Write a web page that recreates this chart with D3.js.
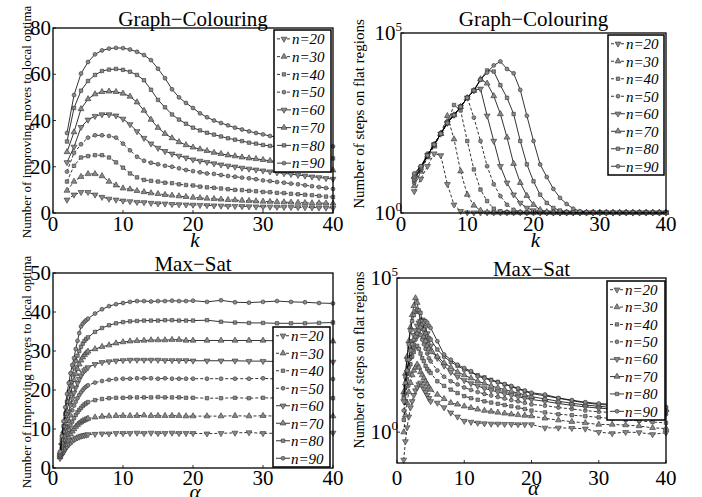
<!DOCTYPE html>
<html>
<head>
<meta charset="utf-8">
<script src="https://cdn.jsdelivr.net/npm/d3@7"></script>
<style>
body { margin: 0; background: #fff; }
svg { display: block; }
</style>
</head>
<body>
<script>
var seriesNames = ["n=20", "n=30", "n=40", "n=50", "n=60", "n=70", "n=80", "n=90"];

// k values for Graph-Colouring
var kVals = [2,3,4,5,6,7,8,9,10,11,12,13,14,15,16,17,18,19,20,21,22,23,24,25,26,27,28,29,30,31,32,33,34,35,36,37,38,39,40];

// alpha values for Max-Sat
var alphaVals = [1,1.25,1.5,1.75,2,2.25,2.5,2.75,3,3.25,3.5,3.75,4,4.25,4.5,4.75,5,
  6,7,8,9,10,11,12,13,14,15,16,17,18,19,20,
  22,24,26,28,30,32,34,36,38,40];

// Graph-Colouring: improving moves to local optima
var gcMoves = [
  [5.7,7.9,9.0,9.0,7.9,6.9,6.1,5.7,5.3,5.0,4.7,4.6,4.3,4.1,4.0,3.8,3.7,3.6,3.5,3.4,3.3,3.2,3.1,3.0,2.95,2.9,2.8,2.75,2.7,2.65,2.6,2.55,2.5,2.45,2.4,2.35,2.3,2.25,2.2],
  [9.7,13.6,15.7,16.9,16.9,16.0,13.6,12.0,10.7,10.3,9.6,9.1,8.6,8.3,7.9,7.6,7.3,7.0,6.7,6.5,6.3,6.1,5.9,5.7,5.6,5.4,5.3,5.1,5.0,4.9,4.8,4.7,4.6,4.5,4.4,4.3,4.3,4.2,4.2],
  [13.6,20.4,24.0,24.6,25.0,25.0,24.0,21.9,19.6,17.1,15.4,14.3,13.9,13.6,13.1,12.9,12.4,12.1,11.9,11.4,11.1,10.9,10.6,10.3,10.0,9.9,9.6,9.4,9.1,9.0,8.7,8.6,8.3,8.1,7.9,7.7,7.4,7.1,6.9],
  [17.9,26.0,29.7,32.6,33.6,33.6,33.3,32.6,30.0,27.1,24.3,22.6,21.7,21.1,20.4,20.0,19.3,18.6,18.1,17.6,17.1,16.9,16.4,16.0,15.7,15.3,15.0,14.6,14.1,13.8,13.4,13.1,12.7,12.4,12.0,11.6,11.2,10.8,10.4],
  [21.9,28.6,37.1,40.3,41.9,42.6,42.6,42.1,40.7,38.3,35.3,32.4,30.0,28.1,26.7,25.6,24.7,23.9,23.1,22.5,22.0,21.4,20.9,20.4,20.0,19.5,19.1,18.7,18.3,17.9,17.5,17.1,16.8,16.4,16.1,15.7,15.4,15.0,14.7],
  [26.4,35.0,45.0,49.3,51.4,52.4,52.6,52.4,51.7,50.4,47.9,44.3,40.4,36.9,34.3,32.4,30.7,29.4,28.4,27.6,26.9,26.1,25.6,25.0,24.6,24.1,23.7,23.4,23.0,22.6,22.2,21.8,21.4,21.0,20.6,20.2,19.7,19.1,18.5],
  [30.9,45.4,52.9,57.1,59.7,61.4,62.0,62.3,61.9,61.1,59.7,57.4,53.3,48.9,45.7,42.6,40.4,38.6,36.9,35.7,34.7,33.9,33.1,32.3,31.7,31.1,30.4,30.0,29.4,29.0,28.6,28.1,27.7,27.3,26.6,26.0,25.3,24.5,23.6],
  [34.6,51.0,60.3,65.3,68.6,70.3,71.1,71.4,71.3,70.7,69.7,68.3,66.1,62.4,58.3,53.5,50.0,47.6,45.4,43.1,41.4,40.0,38.9,37.9,36.9,36.1,35.3,34.6,34.0,33.3,32.7,32.1,31.6,31.1,30.6,30.1,29.6,29.2,28.8]
];

// Graph-Colouring: steps on flat regions, read as log10 from the log axis
var gcFlatLog = [
  [0.6,0.95,1.3,1.65,1.6,0.8,0.23,0.05,0.01,0.01,0.01,0.01,0.01,0.01,0.01,0.01,0.01,0.01,0.01,0.01,0.01,0.01,0.01,0.01,0.01,0.01,0.01,0.01,0.01,0.01,0.01,0.01,0.01,0.01,0.01,0.01,0.01,0.01,0.01],
  [0.75,1.15,1.55,1.85,2.2,2.7,2.05,1.16,0.51,0.21,0.07,0.02,0.01,0.01,0.01,0.01,0.01,0.01,0.01,0.01,0.01,0.01,0.01,0.01,0.01,0.01,0.01,0.01,0.01,0.01,0.01,0.01,0.01,0.01,0.01,0.01,0.01,0.01,0.01],
  [0.85,1.2,1.6,1.9,2.2,2.5,3.0,2.85,2.0,1.21,0.65,0.33,0.12,0.05,0.02,0.01,0.01,0.01,0.01,0.01,0.01,0.01,0.01,0.01,0.01,0.01,0.01,0.01,0.01,0.01,0.01,0.01,0.01,0.01,0.01,0.01,0.01,0.01,0.01],
  [0.9,1.25,1.65,1.9,2.22,2.55,2.72,2.97,3.21,2.65,2.0,1.3,0.8,0.47,0.23,0.09,0.03,0.01,0.01,0.01,0.01,0.01,0.01,0.01,0.01,0.01,0.01,0.01,0.01,0.01,0.01,0.01,0.01,0.01,0.01,0.01,0.01,0.01,0.01],
  [0.95,1.25,1.6,1.9,2.2,2.5,2.72,2.95,3.2,3.4,3.45,2.7,2.0,1.3,0.84,0.51,0.28,0.14,0.07,0.03,0.01,0.01,0.01,0.01,0.01,0.01,0.01,0.01,0.01,0.01,0.01,0.01,0.01,0.01,0.01,0.01,0.01,0.01,0.01],
  [1.0,1.25,1.6,1.9,2.2,2.5,2.72,2.95,3.2,3.4,3.72,3.6,3.25,2.75,2.1,1.37,0.84,0.48,0.23,0.09,0.03,0.01,0.01,0.01,0.01,0.01,0.01,0.01,0.01,0.01,0.01,0.01,0.01,0.01,0.01,0.01,0.01,0.01,0.01],
  [1.05,1.3,1.6,1.9,2.2,2.5,2.72,2.95,3.2,3.4,3.7,3.96,3.93,3.55,3.2,2.75,2.0,1.35,0.88,0.51,0.28,0.14,0.07,0.03,0.01,0.01,0.01,0.01,0.01,0.01,0.01,0.01,0.01,0.01,0.01,0.01,0.01,0.01,0.01],
  [1.1,1.3,1.6,1.9,2.2,2.5,2.72,2.95,3.2,3.4,3.7,3.9,4.1,4.21,4.0,3.88,3.42,2.7,2.0,1.35,1.0,0.67,0.42,0.25,0.12,0.05,0.02,0.01,0.01,0.01,0.01,0.01,0.01,0.01,0.01,0.01,0.01,0.01,0.01]
];

// Max-Sat: improving moves to local optima
var msMoves = [
  [2.5,3.3,4.0,4.8,5.5,6.0,6.5,6.9,7.3,7.6,7.8,8.0,8.2,8.3,8.4,8.5,8.6, 8.7,8.8,8.8,8.9,8.9,8.9,9.0,8.9,9.0,8.9,8.9,9.0,8.9,8.9,8.9, 8.8,8.9,9.0,9.1,8.9,8.9,8.8,8.9,8.9,9.0],
  [2.8,3.9,5.0,6.0,7.0,7.9,8.7,9.4,10.0,10.6,11.1,11.5,11.8,12.1,12.3,12.5,12.7, 13.0,13.2,13.3,13.4,13.4,13.4,13.4,13.5,13.4,13.4,13.4,13.4,13.4,13.3,13.3, 13.3,13.3,13.4,13.3,13.4,13.3,13.3,13.3,13.2,13.3],
  [3.0,4.5,6.0,7.3,8.6,9.8,10.9,11.9,12.8,13.6,14.3,14.9,15.4,15.9,16.3,16.6,16.9, 17.4,17.7,17.9,18.0,18.0,18.1,18.1,18.1,18.1,18.2,18.1,18.1,18.1,18.0,18.0, 17.9,17.9,18.0,17.9,18.0,17.9,17.9,17.9,17.9,17.9],
  [3.2,5.2,7.1,8.9,10.6,12.1,13.5,14.8,16.0,17.0,17.9,18.7,19.4,20.0,20.5,20.9,21.2, 21.9,22.3,22.6,22.8,22.9,22.9,23.0,23.0,23.0,22.9,23.0,22.9,22.9,22.9,22.9, 22.9,22.9,22.9,22.9,23.0,22.8,22.8,22.8,22.8,22.8],
  [3.4,5.8,8.2,10.4,12.5,14.4,16.2,17.8,19.3,20.6,21.8,22.8,23.7,24.4,25.0,25.4,25.8, 26.6,27.1,27.3,27.5,27.6,27.7,27.7,27.7,27.7,27.7,27.6,27.6,27.6,27.6,27.5, 27.5,27.5,27.5,27.4,27.4,27.3,27.3,27.3,27.3,27.2],
  [3.6,6.5,9.4,12.1,14.6,16.9,19.0,20.9,22.6,24.1,25.4,26.6,27.6,28.4,29.0,29.5,29.9, 30.5,31.1,31.5,32.0,32.3,32.5,32.6,32.7,32.8,32.8,32.8,32.9,32.9,32.7,32.7, 32.7,32.7,32.7,32.7,32.7,32.6,32.6,32.6,32.5,32.5],
  [3.9,7.3,10.7,13.9,17.0,19.6,22.0,24.0,25.8,27.4,28.8,30.0,31.1,31.9,32.6,33.1,33.5, 34.9,35.9,36.6,37.1,37.4,37.6,37.7,37.8,37.8,37.8,37.9,37.9,37.8,37.8,37.8, 37.9,37.5,37.3,37.2,37.2,37.1,37.1,37.1,37.2,37.3],
  [4.2,8.2,12.0,15.6,19.0,21.8,24.3,26.4,28.2,30.5,32.6,34.6,36.3,37.0,37.5,37.9,38.3, 39.6,40.7,41.5,42.0,42.3,42.6,42.8,42.8,42.7,42.8,42.8,42.9,42.8,42.8,42.9, 42.6,43.0,42.5,42.4,42.6,42.8,42.6,42.5,42.3,42.2]
];

// Max-Sat: steps on flat regions, read as log10 from the log axis
var msFlatLog = [
  [-0.9,-0.3,0.15,0.5,0.8,1.0,1.2,1.35,1.45,1.55,1.6,1.5,1.4,1.3,1.2,1.1,1.0, 0.95,0.8,0.63,0.5,0.36,0.33,0.3,0.28,0.27,0.27,0.26,0.26,0.25,0.25,0.25, 0.14,0.14,0.13,0.11,0.0,-0.04,0.0,-0.01,-0.07,-0.02],
  [0.0,0.55,0.95,1.3,1.6,1.85,2.0,2.1,2.2,2.1,1.95,1.85,1.75,1.65,1.55,1.45,1.38, 1.22,1.08,0.95,0.9,0.84,0.79,0.74,0.7,0.67,0.64,0.61,0.58,0.56,0.54,0.52, 0.45,0.39,0.34,0.3,0.25,0.25,0.23,0.2,0.14,0.12],
  [0.4,1.0,1.5,1.9,2.2,2.45,2.6,2.75,2.8,2.7,2.55,2.4,2.3,2.15,2.05,1.98,1.92, 1.65,1.5,1.38,1.27,1.17,1.1,1.05,1.0,0.96,0.92,0.88,0.84,0.8,0.75,0.7, 0.64,0.58,0.55,0.52,0.48,0.44,0.4,0.37,0.33,0.3],
  [0.7,1.25,1.7,2.1,2.4,2.65,2.85,3.0,3.1,3.2,3.15,3.0,2.85,2.7,2.55,2.4,2.3, 2.0,1.8,1.65,1.55,1.45,1.37,1.3,1.24,1.19,1.14,1.09,1.04,1.0,0.95,0.9, 0.86,0.8,0.75,0.7,0.66,0.64,0.62,0.6,0.6,0.58],
  [1.0,1.5,1.95,2.35,2.7,2.95,3.15,3.3,3.45,3.55,3.6,3.65,3.6,3.4,3.2,3.0,2.8, 2.4,2.15,1.95,1.8,1.68,1.58,1.5,1.42,1.36,1.3,1.25,1.2,1.15,1.1,1.06, 1.0,0.93,0.87,0.82,0.78,0.75,0.72,0.7,0.68,0.66],
  [1.3,1.9,2.45,2.95,3.4,3.8,4.1,4.35,4.2,3.9,3.6,3.35,3.1,2.95,2.8,2.7,2.6, 2.45,2.25,2.1,1.95,1.85,1.75,1.65,1.58,1.5,1.44,1.38,1.32,1.27,1.21,1.15, 1.08,1.0,0.94,0.88,0.84,0.8,0.78,0.76,0.74,0.72],
  [1.2,1.8,2.35,2.85,3.3,3.6,3.8,3.92,3.97,3.95,3.87,3.6,3.33,3.2,3.1,3.05,3.0, 2.68,2.45,2.28,2.15,2.03,1.95,1.85,1.78,1.7,1.63,1.55,1.48,1.4,1.33,1.25, 1.18,1.1,1.02,0.95,0.9,0.87,0.84,0.82,0.8,0.78],
  [1.1,1.6,2.0,2.35,2.65,2.85,3.0,3.1,3.2,3.3,3.4,3.5,3.55,3.6,3.55,3.45,3.38, 2.95,2.52,2.35,2.19,2.08,1.98,1.81,1.75,1.68,1.62,1.56,1.5,1.42,1.35,1.28, 1.22,1.11,1.04,0.97,0.93,0.9,0.88,0.86,0.84,0.82]
];

var xTicks = [0, 10, 20, 30, 40];
var serif = "'Liberation Serif', 'Times New Roman', 'DejaVu Serif', serif";

var svg = d3.select("body").append("svg")
  .attr("width", 702)
  .attr("height", 497)
  .attr("font-family", serif);

function markerPath(i) {
  var t = i % 4;
  if (t === 0 || t === 1) return d3.symbol().type(d3.symbolTriangle).size(15)();
  if (t === 2) return d3.symbol().type(d3.symbolSquare).size(12)();
  return d3.symbol().type(d3.symbolCircle).size(12)();
}

function drawMarker(g, i, cx, cy) {
  g.append("path")
    .attr("d", markerPath(i))
    .attr("transform", "translate(" + cx + "," + cy + ")" + (i % 4 === 0 ? " rotate(180)" : ""))
    .attr("fill", "#8a8a8a")
    .attr("stroke", "#333")
    .attr("stroke-width", 0.6);
}

function drawPanel(p) {
  var g = svg.append("g");
  var x = d3.scaleLinear().domain([0, 40]).range([p.left, p.right]);
  var y = p.log
    ? d3.scaleLog().domain(p.yDomain).range([p.bottom, p.top])
    : d3.scaleLinear().domain(p.yDomain).range([p.bottom, p.top]);

  // series
  p.series.forEach(function(vals, i) {
    var pts = vals.map(function(v, j) {
      return [x(p.xs[j]), y(p.log ? Math.pow(10, v) : v)];
    });
    g.append("path")
      .attr("d", d3.line()(pts))
      .attr("fill", "none")
      .attr("stroke", "#000")
      .attr("stroke-width", 0.8)
      .attr("stroke-dasharray", i < 4 ? "3,2" : null);
    pts.forEach(function(pt) { drawMarker(g, i, pt[0], pt[1]); });
  });

  // box
  g.append("rect")
    .attr("x", p.left).attr("y", p.top)
    .attr("width", p.right - p.left).attr("height", p.bottom - p.top)
    .attr("fill", "none").attr("stroke", "#000").attr("stroke-width", 1.3);

  // x ticks
  xTicks.forEach(function(t) {
    g.append("line")
      .attr("x1", x(t)).attr("x2", x(t))
      .attr("y1", p.bottom).attr("y2", p.bottom - 3)
      .attr("stroke", "#000").attr("stroke-width", 0.8);
    g.append("text")
      .attr("x", x(t)).attr("y", p.xTickY)
      .attr("text-anchor", "middle")
      .attr("font-size", 21)
      .text(t);
  });

  // y ticks
  p.yTicks.forEach(function(t) {
    g.append("line")
      .attr("x1", p.left).attr("x2", p.left + 3)
      .attr("y1", y(t)).attr("y2", y(t))
      .attr("stroke", "#000").attr("stroke-width", 0.8);
    var lab = g.append("text")
      .attr("x", p.left - (p.log ? -1 : 2)).attr("y", y(t))
      .attr("dy", "0.34em")
      .attr("text-anchor", "end")
      .attr("font-size", 21);
    if (p.log) {
      lab.append("tspan").text("10");
      lab.append("tspan").attr("dy", -9).attr("font-size", 13).text(Math.round(Math.log10(t)));
    } else {
      lab.text(t);
    }
  });

  // title
  g.append("text")
    .attr("x", (p.left + p.right) / 2).attr("y", p.titleY)
    .attr("text-anchor", "middle")
    .attr("font-size", 21)
    .text(p.title);

  // x label
  g.append("text")
    .attr("x", (p.left + p.right) / 2 + 2).attr("y", p.xLabelY)
    .attr("text-anchor", "middle")
    .attr("font-size", 21)
    .attr("font-style", "italic")
    .text(p.xLabel);

  // y label
  g.append("text")
    .attr("transform", "translate(" + p.yLabelX + "," + p.yLabelCY + ") rotate(-90)")
    .attr("dy", "0.35em")
    .attr("text-anchor", "middle")
    .attr("font-size", p.yLabelSize)
    .text(p.yLabel);

  // legend
  var L = p.legend;
  var lg = g.append("g");
  lg.append("rect")
    .attr("x", L.x).attr("y", L.y).attr("width", L.w).attr("height", L.h)
    .attr("fill", "#fff").attr("stroke", "#000").attr("stroke-width", 1.5);
  var step = L.h / 8;
  seriesNames.forEach(function(name, i) {
    var cy = L.y + step * (i + 0.5);
    lg.append("line")
      .attr("x1", L.x + 3).attr("x2", L.x + 17)
      .attr("y1", cy).attr("y2", cy)
      .attr("stroke", "#000").attr("stroke-width", 0.8)
      .attr("stroke-dasharray", i < 4 ? "3,2" : null);
    drawMarker(lg, i, L.x + 10, cy);
    lg.append("text")
      .attr("x", L.x + 18).attr("y", cy)
      .attr("dy", "0.35em")
      .attr("font-size", 15)
      .attr("font-style", "italic")
      .text(name);
  });
}

drawPanel({
  left: 53, right: 333, top: 28, bottom: 213,
  yDomain: [0, 80], yTicks: [0, 20, 40, 60, 80], log: false,
  xs: kVals, series: gcMoves,
  title: "Graph\u2212Colouring", titleY: 26,
  xLabel: "k", xLabelY: 247, xTickY: 231,
  yLabel: "Number of improving moves to local optima", yLabelX: 26, yLabelCY: 122, yLabelSize: 13,
  legend: { x: 274, y: 30, w: 57, h: 142 }
});

drawPanel({
  left: 401, right: 666, top: 33, bottom: 213,
  yDomain: [1, 1e5], yTicks: [1, 1e5], log: true,
  xs: kVals, series: gcFlatLog,
  title: "Graph\u2212Colouring", titleY: 26,
  xLabel: "k", xLabelY: 247, xTickY: 231,
  yLabel: "Number of steps on flat regions", yLabelX: 359, yLabelCY: 114, yLabelSize: 15,
  legend: { x: 608, y: 35, w: 56, h: 140 }
});

drawPanel({
  left: 53, right: 333, top: 273, bottom: 468,
  yDomain: [0, 50], yTicks: [0, 10, 20, 30, 40, 50], log: false,
  xs: alphaVals, series: msMoves,
  title: "Max\u2212Sat", titleY: 271,
  xLabel: "\u03b1", xLabelY: 499, xTickY: 485,
  yLabel: "Number of improving moves to local optima", yLabelX: 26, yLabelCY: 372, yLabelSize: 13,
  legend: { x: 273, y: 327, w: 57, h: 140 }
});

drawPanel({
  left: 397, right: 666, top: 278, bottom: 463,
  yDomain: [0.1, 1e5], yTicks: [1, 1e5], log: true,
  xs: alphaVals, series: msFlatLog,
  title: "Max\u2212Sat", titleY: 276,
  xLabel: "\u03b1", xLabelY: 495, xTickY: 485,
  yLabel: "Number of steps on flat regions", yLabelX: 359, yLabelCY: 360, yLabelSize: 14,
  legend: { x: 607, y: 281, w: 58, h: 139 }
});
</script>
</body>
</html>
